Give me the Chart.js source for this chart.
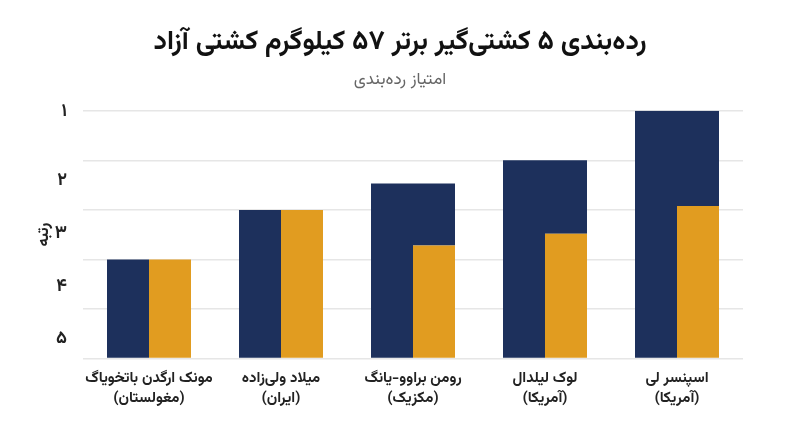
<!DOCTYPE html>
<html>
<head>
<meta charset="utf-8">
<script src="https://cdn.jsdelivr.net/npm/chart.js@4/dist/chart.umd.min.js"></script>
<style>
  html, body { margin: 0; padding: 0; background: #fff; }
  #wrap { width: 800px; height: 447px; }
</style>
</head>
<body>
<div id="wrap"><canvas id="rankChart" width="800" height="447"></canvas></div>
<script>
// رده‌بندی ۵ کشتی‌گیر برتر ۵۷ کیلوگرم — grouped bars, navy column plus orange column topped with navy

const wrestlers = ["اسپنسر لی", "لوک لیلدال", "رومن براوو-یانگ", "میلاد ولی‌زاده", "مونک ارگدن باتخویاگ"];
const countries = ["(آمریکا)", "(آمریکا)", "(مکزیک)", "(ایران)", "(مغولستان)"];
const navyScores = [5, 4, 3.53, 3, 2];
const orangeScores = [3.08, 2.52, 2.28, 3, 2];
const rankLabels = ["۱", "۲", "۳", "۴", "۵"];

const FONT = "Vazirmatn, 'Noto Sans Arabic', sans-serif";
const NAVY = "#1d305c";
const ORANGE = "#e19c20";
const GRID = "#e6e6e6";

// where the rank labels sit on the 0..5 value scale
const rankTickAt = [4.95, 3.55, 2.49, 1.415, 0.37];

const labels = wrestlers.map((w, i) => [w, countries[i]]);
// navy part sitting on top of the orange bar (nothing when they are equal)
const navyRest = navyScores.map((v, i) => v - orangeScores[i] > 0 ? v - orangeScores[i] : null);

const ctx = document.getElementById("rankChart").getContext("2d");
new Chart(ctx, {
  type: "bar",
  data: {
    labels,
    datasets: [
      { label: "navy", data: navyScores, backgroundColor: NAVY, stack: "a" },
      { label: "orange", data: orangeScores, backgroundColor: ORANGE, stack: "b" },
      { label: "navy-rest", data: navyRest, backgroundColor: NAVY, stack: "b" }
    ]
  },
  options: {
    responsive: false,
    animation: false,
    devicePixelRatio: 1,
    layout: { padding: { top: 0, right: 27, bottom: 34, left: 27 } },
    // 660px plot / 5 = 132px per category, 84px per pair -> bar edges land on whole pixels
    categoryPercentage: 84 / 132,
    barPercentage: 1.0,
    inflateAmount: 0,
    plugins: {
      legend: { display: false },
      tooltip: { enabled: false },
      title: {
        display: true,
        text: "رده‌بندی ۵ کشتی‌گیر برتر ۵۷ کیلوگرم کشتی آزاد",
        color: "#111",
        font: { family: FONT, size: 27, weight: "bold" },
        padding: { top: 29, bottom: 10 }
      },
      subtitle: {
        display: true,
        text: "امتیاز رده‌بندی",
        color: "#666",
        font: { family: FONT, size: 17 },
        padding: { top: 0, bottom: 19 }
      }
    },
    scales: {
      x: {
        reverse: true,
        stacked: true,
        grid: { display: false },
        border: { display: false },
        ticks: {
          color: "#222",
          font: { family: FONT, size: 15, weight: "bold", lineHeight: 1.35 },
          maxRotation: 0,
          autoSkip: false,
          padding: 3
        }
      },
      y: {
        stacked: true,
        min: 0,
        max: 5,
        position: "left",
        ticks: { display: false, stepSize: 1 },
        grid: { color: GRID, lineWidth: 1.5, drawTicks: false },
        border: { display: false }
      },
      yl: {
        type: "linear",
        min: 0,
        max: 5,
        position: "left",
        grid: { display: false },
        border: { display: false },
        afterBuildTicks: axis => { axis.ticks = rankTickAt.map(v => ({ value: v })); },
        afterFit: axis => { axis.width = 56; },
        ticks: {
          color: "#222",
          font: { family: FONT, size: 18, weight: "bold" },
          padding: 8,
          callback: (value, index) => rankLabels[index]
        },
        title: {
          display: true,
          text: "رتبه",
          color: "#222",
          font: { family: FONT, size: 16, weight: "bold" },
          padding: { top: 9, bottom: 0 }
        }
      },
      // empty spacer on the right so the plot ends where the reference does
      yr: {
        type: "linear",
        position: "right",
        min: 0,
        max: 5,
        grid: { display: false },
        border: { display: false },
        ticks: { display: false },
        afterFit: axis => { axis.width = 30; }
      }
    }
  }
});
</script>
</body>
</html>
